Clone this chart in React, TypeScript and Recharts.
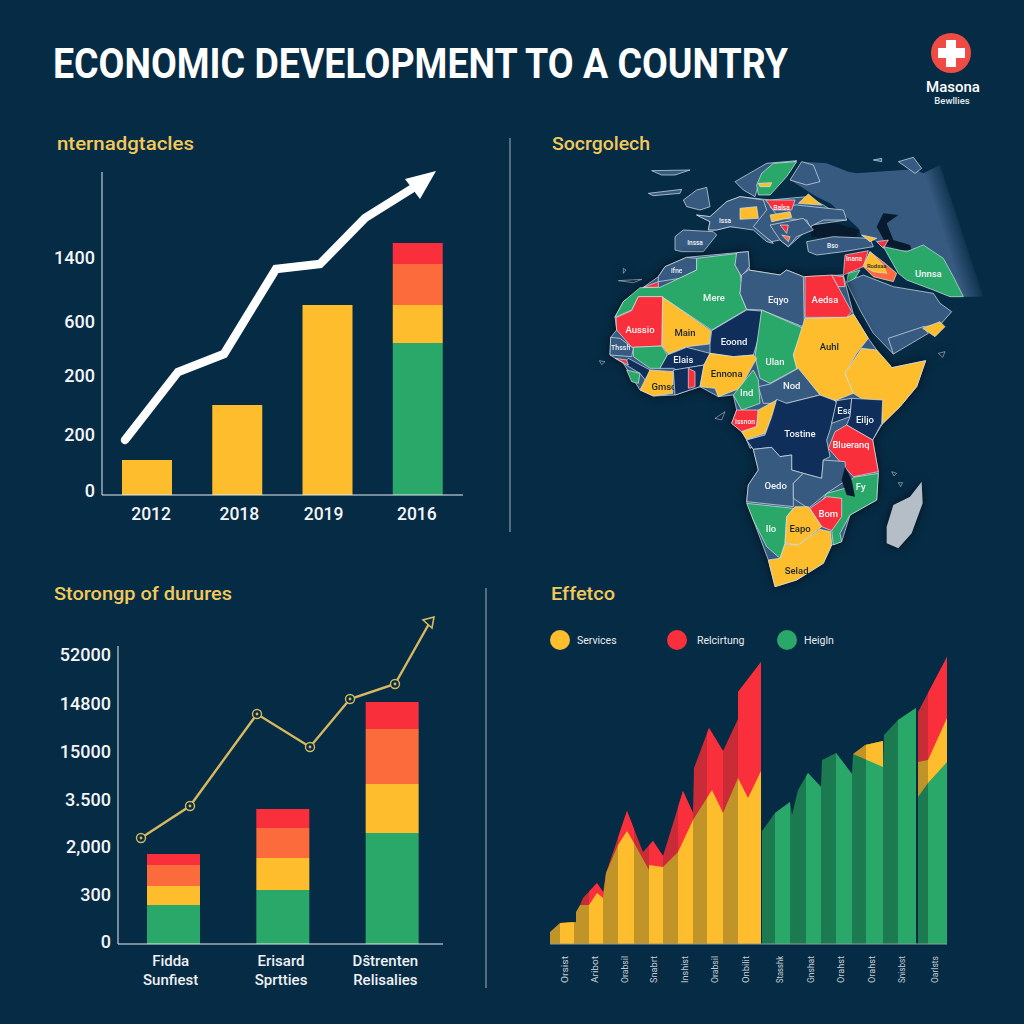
import React from "react";
import { ComposedChart, LineChart, AreaChart, ScatterChart, Bar, Line, Area, Scatter, XAxis, YAxis, Legend } from "recharts";

const BG = "#062b44";
const YELLOW = "#fdbd2d", GREEN = "#2aa86a", ORANGE = "#fb6b3c", RED = "#f9303c", BLUE = "#375a80", NAVY = "#0f2f5a", GOLD = "#d6b95f";
const FONT = "Roboto, sans-serif";

// top-left panel
const topYears = ["2012", "2018", "2019", "2016"];
const topGreen = [0, 0, 0, 152];
const topYellow = [35, 90, 190, 38];
const topOrange = [0, 0, 0, 41];
const topRed = [0, 0, 0, 21];
const topTicks = [4, 60, 119, 173, 237];
const topTickLabels = ["0", "200", "200", "600", "1400"];
const topTrendX = [23, 76, 122, 174, 218, 263, 311];
const topTrendY = [55, 123, 141, 226, 231, 277, 307];
const topLabelShift = [4, 2, -4, -1];

// bottom-left panel
const lowCatA = ["Fidda", "Erisard", "Dŝtrenten"];
const lowCatB = ["Sunfiest", "Sprtties", "Relisalies"];
const lowGreen = [39, 54, 111];
const lowYellow = [19, 32, 49];
const lowOrange = [21, 30, 55];
const lowRed = [11, 19, 27];
const lowTicks = [2, 49, 97, 144, 192, 240, 289];
const lowTickLabels = ["0", "300", "2,000", "3.500", "15000", "14800", "52000"];
const lowTrendX = [23, 72, 139, 192, 232, 277, 312];
const lowTrendY = [106, 138, 230, 197, 245, 260, 322];
const lowLabelShift = [-3, -2, -7];

// bottom-right panel
const serviceX = [0, 10, 26, 26, 30, 39, 47, 53, 56, 68, 77, 84, 99, 99, 113, 128, 143, 162, 173, 188, 198, 211, 212, 303, 315, 333, 334, 368, 378, 397];
const serviceY = [12, 21, 22, 32, 39, 39, 51, 46, 71, 99, 113, 101, 74, 79, 77, 92, 124, 154, 131, 166, 146, 173, null, 190, 199, 203, null, 182, 184, 226];
const relatedX = [30, 33, 47, 53, 56, 77, 93, 103, 113, 133, 143, 144, 159, 173, 188, 188, 211, 212, 368, 397];
const relatedY = [39, 46, 61, 52, 71, 133, 92, 103, 88, 153, 131, 176, 216, 193, 225, 252, 282, null, 232, 287];
const healthX = [212, 225, 240, 242, 248, 258, 271, 272, 286, 302, 303, 333, 334, 348, 366, 367, 368, 378, 397];
const healthY = [113, 131, 142, 129, 154, 171, 157, 184, 191, 170, 190, 177, 209, 224, 236, null, 147, 161, 182];
const areaTicks = [14, 44, 74, 103, 134, 164, 195, 229, 260, 290, 321, 351, 384];
const areaTickLabels = ["Orsist", "Aribot", "Orabsil", "Snabrt", "Inshist", "Orabsil", "Onbilit", "Stasshk", "Gnshat", "Orahst", "Orahst", "Snisbst", "Oarlsts"];
const legendNames = ["Services", "Relcirtung", "Heigln"];
const legendLeft = [20, 137, 247];
const legendGap = [7, 10, 7];
const lightBands = [[560, 574], [589, 603], [618, 634], [649, 663], [678, 693], [707, 723], [738, 761], [775, 790], [806, 821], [836, 852], [866, 883], [898, 917], [928, 947]];

const zip = (xs: number[], ys: (number | null)[]) => xs.map((x, i) => ({ x, y: ys[i] }));
const table = (cats: string[], g: number[], y: number[], o: number[], r: number[]) =>
  cats.map((cat, i) => ({ cat, green: g[i], yellow: y[i], orange: o[i], red: r[i] }));

// map: outlines in map units, [label, group, labelU, labelV, points]
type P = number[];
type Row = [string, string, number, number, P];
const north = (p: P) => p.map((n, i) => (i % 2 === 0 ? n - 150 : n - 330));
const asiaRow: Row[] = [
  ["", "fade", 0, 0, north([750, 150, 790, 95, 860, 100, 925, 125, 950, 130, 1120, 118, 1150, 130, 1200, 105, 1330, 500, 1270, 500, 1210, 385, 1150, 345, 1100, 365, 1040, 345, 965, 320, 955, 295, 920, 262, 870, 220, 830, 200])],
];
const northRows: Row[] = [
  ["", "sea", 0, 0, north([1030, 250, 1075, 255, 1040, 280, 1060, 330, 1110, 345, 1115, 360, 1080, 360, 1040, 345, 1010, 290])],
  ["", "sea", 0, 0, north([810, 290, 870, 275, 960, 300, 945, 325, 880, 325, 815, 320])],
  ["", "blue", 0, 0, north([335, 122, 450, 120, 405, 135, 365, 135])],
  ["", "blue", 0, 0, north([325, 190, 425, 178, 420, 190, 340, 197])],
  ["", "blue", 0, 0, north([1000, 90, 1025, 85, 1025, 95])],
  ["", "blue", 0, 0, north([1075, 95, 1120, 82, 1145, 115, 1125, 130])],
  ["", "blue", 0, 0, north([430, 210, 470, 180, 500, 172, 510, 230, 480, 240, 440, 230])],
  ["", "blue", 0, 0, north([470, 255, 510, 260, 560, 215, 600, 200, 690, 210, 800, 200, 850, 225, 920, 270, 815, 285, 810, 300, 790, 310, 745, 350, 720, 330, 695, 335, 640, 295, 570, 290, 530, 300, 505, 300, 510, 275])],
  ["", "blue", 0, 0, north([585, 155, 680, 100, 770, 92, 660, 150, 645, 200, 610, 180])],
  ["", "green", 0, 0, north([650, 165, 665, 130, 700, 100, 770, 95, 740, 140, 690, 195, 655, 195])],
  ["", "yellow", 0, 0, north([655, 160, 695, 158, 690, 170, 660, 170])],
  ["", "blue", 0, 0, north([750, 150, 785, 95, 820, 105, 840, 155, 800, 165])],
  ["Issa", "blue", 405, -57, north([470, 255, 510, 260, 560, 215, 600, 200, 670, 210, 680, 240, 640, 290, 700, 340, 680, 335, 640, 300, 570, 290, 530, 300, 505, 300, 510, 275])],
  ["Inssa", "blue", 315, 8, north([405, 320, 430, 300, 520, 305, 530, 315, 490, 365, 425, 365, 405, 360])],
  ["", "blue", 0, 0, north([690, 230, 770, 225, 910, 240, 920, 270, 850, 270, 810, 290, 800, 270, 720, 265])],
  ["Balsa", "red", 575, -95, north([677, 210, 765, 210, 755, 240, 700, 240])],
  ["", "yellow", 0, 0, north([600, 235, 650, 230, 655, 265, 600, 268])],
  ["", "yellow", 0, 0, north([690, 255, 750, 245, 755, 262, 695, 275])],
  ["", "yellow", 0, 0, north([775, 220, 805, 192, 845, 225])],
  ["", "blue", 0, 0, north([690, 285, 790, 265, 820, 300, 770, 320, 745, 350, 720, 330])],
  ["", "red", 0, 0, north([720, 285, 745, 285, 740, 310])],
  ["", "orange", 0, 0, north([725, 315, 750, 320, 745, 335])],
  ["Bso", "blue", 728, 18, north([800, 335, 880, 320, 990, 325, 1000, 350, 910, 365, 830, 375, 805, 365])],
  ["", "yellow", 0, 0, north([965, 315, 1010, 325, 990, 335])],
  ["", "red", 0, 0, north([1010, 335, 1045, 330, 1030, 355])],
  ["", "blue", 0, 0, north([918, 455, 970, 435, 1060, 470, 1180, 490, 1200, 520, 1235, 545, 1200, 585, 1150, 590, 1060, 672, 1000, 610, 960, 540])],
  ["", "blue", 0, 0, north([1045, 625, 1150, 590, 1165, 610, 1060, 672])],
  ["", "yellow", 0, 0, north([1148, 595, 1200, 575, 1215, 590, 1185, 620])],
  ["Unnsa", "green", 1015, 100, north([1030, 350, 1100, 365, 1150, 345, 1210, 385, 1240, 440, 1270, 500, 1230, 500, 1180, 480, 1100, 450, 1075, 430])],
  ["Inana", "red", 792, 58, north([915, 375, 985, 362, 970, 410, 910, 435])],
  ["", "orange", 0, 0, north([990, 365, 1035, 400, 1070, 430, 1060, 455, 1000, 440, 970, 410])],
  ["Rodsaa", "yellow", 860, 78, north([990, 365, 1030, 405, 1040, 430, 1000, 425, 970, 408])],
  ["", "green", 0, 0, north([925, 430, 960, 420, 945, 445, 920, 458])],
  ["", "red", 0, 0, north([870, 438, 910, 435, 915, 470, 890, 470])],
];
const southRows: Row[] = [
  ["", "blue", 0, 0, [75, 230, 100, 185, 160, 142, 205, 110, 225, 80, 290, 52, 440, 38, 475, 35, 478, 90, 570, 105, 590, 90, 640, 110, 760, 105, 790, 222, 835, 295, 860, 330, 905, 383, 1007, 362, 980, 440, 930, 500, 877, 552, 848, 600, 865, 695, 860, 780, 780, 825, 755, 905, 725, 915, 700, 970, 620, 1020, 555, 1040, 535, 960, 490, 840, 470, 785, 475, 735, 505, 690, 490, 628, 470, 600, 455, 575, 425, 550, 440, 510, 430, 465, 385, 470, 330, 440, 255, 465, 190, 468, 150, 450, 100, 370, 60, 345, 62, 292, 80, 270]],
  ["Ifne", "blue", 260, 93, [205, 110, 225, 80, 290, 52, 320, 55, 320, 90, 270, 115, 205, 125]],
  ["", "red", 0, 0, [160, 142, 205, 125, 205, 142]],
  ["Mere", "green", 372, 172, [320, 55, 445, 40, 435, 75, 450, 100, 455, 130, 450, 160, 470, 208, 365, 270, 215, 170, 145, 170, 125, 210, 75, 232, 100, 185, 150, 143, 210, 142, 320, 90]],
  ["", "blue", 0, 0, [440, 38, 475, 35, 478, 80, 455, 110, 435, 75]],
  ["Eqyo", "blue", 565, 177, [455, 105, 475, 90, 570, 105, 590, 90, 640, 110, 643, 262, 515, 210, 470, 208, 450, 160]],
  ["Aedsa", "red", 705, 178, [645, 110, 725, 105, 785, 215, 770, 232, 645, 232]],
  ["", "red", 0, 0, [725, 105, 760, 110, 765, 140, 745, 140]],
  ["Aussio", "red", 150, 268, [145, 170, 218, 170, 215, 318, 125, 322, 80, 270, 78, 233, 125, 212]],
  ["Main", "yellow", 285, 278, [218, 172, 362, 272, 358, 312, 290, 320, 235, 342, 217, 318]],
  ["Eoond", "navy", 432, 303, [365, 272, 470, 210, 515, 213, 510, 280, 490, 345, 430, 350, 360, 340, 360, 312]],
  ["Ulan", "green", 555, 365, [515, 210, 640, 265, 610, 345, 622, 385, 540, 430, 510, 415, 495, 350]],
  ["Auhl", "yellow", 718, 318, [645, 235, 770, 232, 790, 222, 835, 295, 800, 340, 765, 400, 790, 460, 735, 482, 690, 465, 620, 385, 610, 345]],
  ["", "yellow", 0, 0, [815, 325, 860, 330, 900, 375, 905, 383, 1007, 362, 980, 440, 930, 500, 877, 552, 875, 480, 830, 485, 790, 460, 765, 400]],
  ["Nod", "blue", 605, 437, [505, 440, 540, 432, 625, 385, 690, 465, 590, 490, 520, 490]],
  ["Thssh", "blue", 92, 325, [62, 292, 90, 295, 130, 325, 125, 350, 60, 345]],
  ["", "green", 0, 0, [130, 322, 215, 318, 232, 345, 210, 385, 180, 385, 130, 350]],
  ["", "navy", 0, 0, [115, 355, 180, 390, 170, 425, 150, 400, 100, 370]],
  ["", "red", 0, 0, [75, 355, 110, 360, 115, 375]],
  ["", "green", 0, 0, [110, 390, 150, 400, 145, 430, 125, 425]],
  ["Elais", "navy", 280, 358, [210, 385, 232, 345, 290, 322, 360, 340, 342, 375, 260, 390, 250, 385]],
  ["Gmso", "yellow", 222, 438, [180, 390, 250, 395, 248, 460, 190, 468, 150, 450]],
  ["", "navy", 0, 0, [250, 390, 342, 375, 330, 440, 255, 465]],
  ["", "red", 0, 0, [295, 385, 315, 395, 315, 440, 295, 445]],
  ["Ennona", "yellow", 410, 400, [360, 340, 430, 350, 490, 345, 500, 355, 450, 445, 385, 470, 375, 445, 330, 440, 342, 375]],
  ["Ind", "green", 470, 458, [490, 390, 505, 420, 510, 490, 455, 510, 430, 465]],
  ["Issnon", "red", 465, 547, [440, 510, 505, 510, 500, 560, 455, 575, 425, 550]],
  ["", "yellow", 0, 0, [505, 510, 560, 480, 545, 530, 525, 580, 470, 598, 455, 575, 500, 560]],
  ["", "blue", 0, 0, [470, 600, 525, 585, 525, 600, 480, 625]],
  ["Tostine", "navy", 630, 580, [560, 478, 590, 490, 690, 465, 735, 482, 740, 490, 720, 570, 710, 600, 720, 650, 700, 660, 695, 715, 640, 700, 605, 690, 605, 645, 570, 650, 545, 622, 490, 628, 470, 600, 525, 585, 545, 530]],
  ["Esa", "navy", 765, 512, [740, 482, 785, 475, 780, 530, 725, 550]],
  ["Eiljo", "navy", 825, 537, [785, 475, 878, 480, 875, 550, 848, 600, 770, 555, 780, 530]],
  ["Blueranq", "red", 783, 614, [735, 575, 770, 555, 848, 600, 865, 695, 790, 710, 750, 665, 715, 625]],
  ["Oedo", "blue", 557, 737, [490, 628, 545, 622, 570, 650, 605, 645, 605, 690, 640, 700, 610, 730, 610, 800, 470, 785, 475, 735, 505, 690]],
  ["", "blue", 0, 0, [610, 730, 640, 700, 695, 715, 700, 660, 765, 665, 770, 720, 710, 760, 655, 805, 610, 775]],
  ["Fy", "green", 812, 740, [790, 712, 865, 700, 860, 780, 780, 825, 750, 880, 755, 905, 730, 915, 725, 870, 680, 810, 710, 760, 765, 745]],
  ["", "sea", 0, 0, [765, 680, 785, 720, 795, 770, 770, 765, 755, 720]],
  ["Bom", "red", 715, 820, [660, 805, 710, 770, 755, 775, 755, 830, 725, 872, 695, 860]],
  ["Ilo", "green", 543, 865, [470, 790, 610, 805, 590, 830, 585, 910, 570, 955, 530, 920, 490, 840]],
  ["Eapo", "yellow", 630, 865, [590, 830, 615, 800, 655, 800, 695, 860, 625, 915, 585, 910]],
  ["Selad", "yellow", 620, 992, [585, 912, 625, 915, 690, 868, 722, 875, 725, 915, 700, 970, 620, 1020, 555, 1040, 535, 960, 570, 955]],
  ["", "grey", 0, 0, [995, 725, 998, 790, 965, 880, 925, 925, 890, 910, 890, 860, 910, 795, 960, 770]],
  ["", "isle", 0, 0, [100, 85, 108, 90, 100, 100]],
  ["", "isle", 0, 0, [85, 122, 155, 118, 130, 128]],
  ["", "isle", 0, 0, [28, 362, 45, 365, 35, 374]],
  ["", "isle", 0, 0, [375, 535, 405, 515, 395, 540]],
  ["", "isle", 0, 0, [1045, 340, 1065, 335, 1058, 352]],
  ["", "isle", 0, 0, [905, 695, 920, 700, 912, 708]],
  ["", "isle", 0, 0, [925, 728, 938, 728, 932, 740]],
];
const mapFill: Record<string, string> = { fade: "url(#mapFade)", sea: "#081a2e", blue: BLUE, navy: NAVY, green: GREEN, yellow: YELLOW, red: RED, orange: ORANGE, grey: "#b5bec6", isle: "none" };
const toMapData = (rows: Row[]) =>
  rows.map(([name, group, u, v, pts]) => {
    const us = pts.filter((_, i) => i % 2 === 0);
    const vs = pts.filter((_, i) => i % 2 === 1);
    return { name, group, pts, u: name ? u : us[0], v: name ? v : vs[0], span: Math.max(...us) - Math.min(...us) };
  });

const CountryShape = (props: any) => {
  const { cx, cy, payload } = props;
  const { name, group, pts, u, v, span } = payload;
  const coords: string[] = [];
  for (let i = 0; i < pts.length; i += 2) coords.push(`${cx + (pts[i] - u) / 3},${cy + (pts[i + 1] - v) / 3}`);
  const plain = group === "fade" || group === "sea" || group === "grey";
  const cap = v < 100 ? 6.5 : 9.5;
  const size = name ? Math.max(5, Math.min(cap, (span / 3 / name.length) * 1.5)) : 0;
  return (
    <g>
      <polygon points={coords.join(" ")} fill={mapFill[group]} stroke={plain ? "none" : "#d6e2ea"} strokeWidth={group === "isle" ? 0.5 : 0.7} strokeLinejoin="round" />
      {name ? (
        <text x={cx} y={cy} textAnchor="middle" dominantBaseline="central" fontFamily={FONT} fontWeight={500} fontSize={size} fill={group === "yellow" ? "#1a2430" : "#f2f5f7"}>
          {name}
        </text>
      ) : null}
    </g>
  );
};

const MapLayer = ({ rows }: { rows: Row[] }) => (
  <ScatterChart width={450} height={470} margin={{ top: 0, right: 0, bottom: 0, left: 0 }}>
    <XAxis hide dataKey="u" type="number" domain={[-150, 1200]} />
    <YAxis hide dataKey="v" type="number" domain={[-330, 1080]} reversed />
    <Scatter data={toMapData(rows)} shape={<CountryShape />} isAnimationActive={false} />
  </ScatterChart>
);

const tickStyle = { fill: "#f4f6f8", fontSize: 18, fontWeight: 500, fontFamily: FONT };

const stackBars = (width: number) => [
  <Bar key="g" dataKey="green" stackId="s" fill={GREEN} barSize={width} isAnimationActive={false} />,
  <Bar key="y" dataKey="yellow" stackId="s" fill={YELLOW} barSize={width} isAnimationActive={false} />,
  <Bar key="o" dataKey="orange" stackId="s" fill={ORANGE} barSize={width} isAnimationActive={false} />,
  <Bar key="r" dataKey="red" stackId="s" fill={RED} barSize={width} isAnimationActive={false} />,
];

const ArrowDot = (props: any) => {
  const { cx, cy, index } = props;
  if (index !== topTrendX.length - 1) return <g key={index} />;
  return <polygon key={index} points={`${cx + 23},${cy - 17} ${cx - 8},${cy - 9} ${cx + 7},${cy + 11}`} fill="#ffffff" />;
};

const GoldDot = (props: any) => {
  const { cx, cy, index } = props;
  if (index === lowTrendX.length - 1) {
    return <polygon key={index} points={`${cx + 4},${cy - 5} ${cx - 7},${cy - 2} ${cx + 2},${cy + 6}`} fill={BG} stroke={GOLD} strokeWidth={1.6} />;
  }
  return (
    <g key={index}>
      <circle cx={cx} cy={cy} r={4.5} fill={BG} stroke={GOLD} strokeWidth={1.4} />
      <circle cx={cx} cy={cy} r={1.4} fill={GOLD} />
    </g>
  );
};

const TopTick = (props: any) => {
  const { x, y, index, payload } = props;
  return (
    <text x={x + topLabelShift[index]} y={y + 17} textAnchor="middle" {...tickStyle} fontSize={17.5}>
      {payload.value}
    </text>
  );
};

const LowTick = (props: any) => {
  const { x, y, index } = props;
  const tx = x + lowLabelShift[index];
  return (
    <text x={tx} y={y} textAnchor="middle" fill="#eef1f4" fontSize={15} fontWeight={500} fontFamily={FONT}>
      <tspan x={tx} dy={14}>{lowCatA[index]}</tspan>
      <tspan x={tx} dy={19}>{lowCatB[index]}</tspan>
    </text>
  );
};

const AreaTick = (props: any) => {
  const { x, y, payload } = props;
  const label = areaTickLabels[areaTicks.indexOf(payload.value)];
  return (
    <text x={x} y={y + 4} transform={`rotate(-90 ${x} ${y + 4})`} textAnchor="end" dominantBaseline="central" fill="#c6ced4" fontSize={9.5} fontFamily={FONT} textLength={27} lengthAdjust="spacingAndGlyphs">
      {label}
    </text>
  );
};

const LegendRow = () => (
  <div style={{ position: "relative", width: 400, height: 30 }}>
    {legendNames.map((n, i) => (
      <div key={n} style={{ position: "absolute", left: legendLeft[i] - 10, top: 0, display: "flex", alignItems: "center" }}>
        <span style={{ width: 20, height: 20, borderRadius: 10, background: [YELLOW, RED, GREEN][i], display: "inline-block", marginRight: legendGap[i] }} />
        <span style={{ color: "#e8ecef", fontSize: 10.5, fontFamily: FONT }}>{n}</span>
      </div>
    ))}
  </div>
);

const AreaPanel = ({ palette, legend }: { palette: string[]; legend: boolean }) => (
  <AreaChart width={440} height={375} margin={{ top: 20, right: 23, bottom: 0, left: 20 }}>
    <XAxis dataKey="x" type="number" domain={[0, 397]} ticks={areaTicks} interval={0} height={56} stroke="#8b9b9a" tickLine={false} tick={<AreaTick />} />
    <YAxis hide domain={[0, 299]} />
    <Area data={zip(relatedX, relatedY)} dataKey="y" name="red" type="linear" stroke="none" fill={palette[1]} fillOpacity={1} dot={false} activeDot={false} isAnimationActive={false} />
    <Area data={zip(serviceX, serviceY)} dataKey="y" name="yellow" type="linear" stroke="none" fill={palette[0]} fillOpacity={1} dot={false} activeDot={false} isAnimationActive={false} />
    <Area data={zip(healthX, healthY)} dataKey="y" name="green" type="linear" stroke="none" fill={palette[2]} fillOpacity={1} dot={false} activeDot={false} isAnimationActive={false} />
    {legend ? <Legend layout="horizontal" verticalAlign="middle" content={<LegendRow />} wrapperStyle={{ top: 5, left: 10, width: 400, height: 30 }} /> : null}
  </AreaChart>
);

const at = (left: number, top: number, extra: React.CSSProperties = {}): React.CSSProperties => ({ position: "absolute", left, top, ...extra });
const bandClip = lightBands.map(([a, b]) => `M${a - 530} 0H${b - 530}V319H${a - 530}Z`).join("");

export default function App() {
  return (
    <div style={{ position: "absolute", left: 0, top: 0, width: 1024, height: 1024, background: BG, overflow: "hidden" }}>
      <svg width={1024} height={1024} style={at(0, 0)}>
        <defs>
          <linearGradient id="mapFade" gradientUnits="userSpaceOnUse" x1={404} y1={106} x2={426} y2={99}>
            <stop offset="0" stopColor={BLUE} />
            <stop offset="1" stopColor={BLUE} stopOpacity={0} />
          </linearGradient>
        </defs>
        <text x={53} y={78} fontFamily={FONT} fontWeight={700} fontSize={42} fill="#ffffff" textLength={735} lengthAdjust="spacingAndGlyphs">ECONOMIC DEVELOPMENT TO A COUNTRY</text>
        <text x={57} y={150} fontFamily={FONT} fontWeight={500} fontSize={19} fill="#f3c95a" textLength={137} lengthAdjust="spacingAndGlyphs">nternadgtacles</text>
        <text x={552} y={150} fontFamily={FONT} fontWeight={500} fontSize={19} fill="#f3c95a" textLength={98} lengthAdjust="spacingAndGlyphs">Socrgolech</text>
        <text x={54} y={600} fontFamily={FONT} fontWeight={500} fontSize={19} fill="#f3c95a" textLength={178} lengthAdjust="spacingAndGlyphs">Storongp of durures</text>
        <text x={551} y={600} fontFamily={FONT} fontWeight={500} fontSize={19} fill="#f3c95a" textLength={64} lengthAdjust="spacingAndGlyphs">Effetco</text>
        <line x1={510} y1={138} x2={510} y2={532} stroke="#8c9aa6" strokeWidth={1.2} />
        <line x1={486} y1={588} x2={486} y2={988} stroke="#8c9aa6" strokeWidth={1.2} />
        <circle cx={951} cy={53} r={20} fill="#ef4b45" />
        <rect x={938} y={48} width={27} height={10} fill="#ffffff" />
        <rect x={946} y={40} width={10} height={27} fill="#ffffff" />
        <text x={953} y={92} textAnchor="middle" fontFamily={FONT} fontWeight={500} fontSize={15} fill="#ffffff">Masona</text>
        <text x={952} y={104} textAnchor="middle" fontFamily={FONT} fontWeight={500} fontSize={9.5} fill="#e6ebef">Bewllies</text>
      </svg>

      {/* top-left */}
      <div style={at(40, 160)}>
        <ComposedChart width={423} height={375} data={table(topYears, topGreen, topYellow, topOrange, topRed)} margin={{ top: 12, right: 0, bottom: 0, left: 0 }}>
          <XAxis dataKey="cat" height={40} stroke="#e8edf0" tickLine={false} tick={<TopTick />} interval={0} />
          <YAxis width={62} domain={[0, 323]} ticks={topTicks} interval={0} stroke="#e8edf0" tickLine={false} tickSize={0} tickMargin={7} tick={tickStyle} tickFormatter={(v: number) => topTickLabels[topTicks.indexOf(v)]} />
          {stackBars(50)}
        </ComposedChart>
      </div>
      <div style={at(40, 160)}>
        <LineChart width={423} height={375} data={zip(topTrendX, topTrendY)} margin={{ top: 12, right: 0, bottom: 40, left: 62 }}>
          <XAxis hide dataKey="x" type="number" domain={[0, 361]} />
          <YAxis hide domain={[0, 323]} />
          <Line dataKey="y" type="linear" stroke="#ffffff" strokeWidth={8.5} strokeLinecap="round" strokeLinejoin="miter" dot={<ArrowDot />} activeDot={false} isAnimationActive={false} />
        </LineChart>
      </div>

      {/* map */}
      <div style={at(540, 130)}>
        <MapLayer rows={asiaRow} />
      </div>
      <div style={at(540, 130)}>
        <MapLayer rows={northRows} />
      </div>
      <div style={at(540, 130, { filter: "drop-shadow(0 0 5px #04121f)" })}>
        <MapLayer rows={southRows} />
      </div>

      {/* bottom-left */}
      <div style={at(40, 634)}>
        <ComposedChart width={403} height={360} data={table(lowCatA, lowGreen, lowYellow, lowOrange, lowRed)} margin={{ top: 12, right: 0, bottom: 0, left: 0 }}>
          <XAxis dataKey="cat" height={50} stroke="#e8edf0" tickLine={false} padding={{ left: 1, right: -4 }} tick={<LowTick />} interval={0} />
          <YAxis width={78} domain={[0, 298]} ticks={lowTicks} interval={0} stroke="#e8edf0" tickLine={false} tickSize={0} tickMargin={7} tick={tickStyle} tickFormatter={(v: number) => lowTickLabels[lowTicks.indexOf(v)]} />
          {stackBars(53)}
        </ComposedChart>
      </div>
      <div style={at(40, 610)}>
        <LineChart width={403} height={384} data={zip(lowTrendX, lowTrendY)} margin={{ top: 0, right: 0, bottom: 50, left: 78 }}>
          <XAxis hide dataKey="x" type="number" domain={[0, 325]} />
          <YAxis hide domain={[0, 334]} />
          <Line dataKey="y" type="linear" stroke={GOLD} strokeWidth={2.4} dot={<GoldDot />} activeDot={false} isAnimationActive={false} />
        </LineChart>
      </div>

      {/* bottom-right: dark facets beneath, bright facets clipped above */}
      <div style={at(530, 625)}>
        <AreaPanel palette={["#c1942a", "#c92c36", "#1c7a50"]} legend />
      </div>
      <div style={at(530, 625, { clipPath: `path("${bandClip}")` })}>
        <AreaPanel palette={[YELLOW, RED, GREEN]} legend={false} />
      </div>
    </div>
  );
}
